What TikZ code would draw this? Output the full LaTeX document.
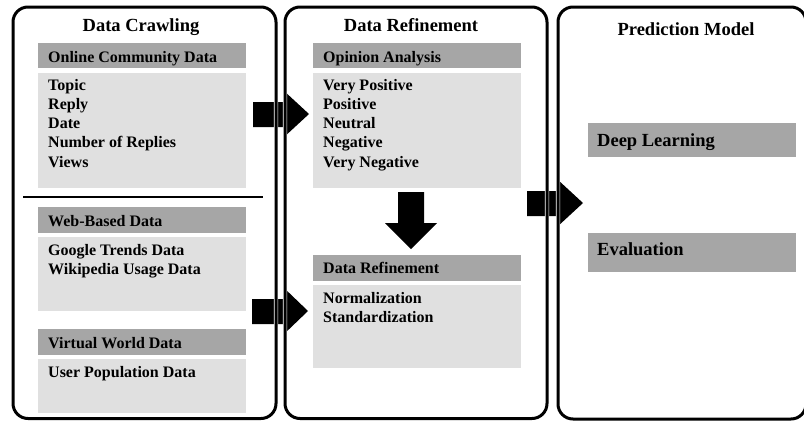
\documentclass[tikz,border=0pt]{standalone}
\usepackage{fontspec}
\setmainfont{Liberation Serif}
\definecolor{hdrgray}{RGB}{166,166,166}
\definecolor{bodygray}{RGB}{224,224,224}
\begin{document}
\begin{tikzpicture}[x=1pt,y=-1pt,
  panel/.style={draw=black, line width=3pt, rounded corners=15pt},
  halo/.style={draw=white, line width=4.2pt, rounded corners=15pt},
  hdr/.style={fill=hdrgray},
  bodybox/.style={fill=bodygray},
  txt/.style={anchor=base west, inner sep=0pt, font=\fontsize{16}{19.3}\selectfont\bfseries, align=left},
  hdrtxt/.style={anchor=base west, inner sep=0pt, font=\fontsize{16}{19}\selectfont\bfseries},
  bigtxt/.style={anchor=base west, inner sep=0pt, font=\fontsize{18.5}{22}\selectfont\bfseries},
  ttl/.style={anchor=base, inner sep=0pt, font=\fontsize{18.5}{22}\selectfont\bfseries},
  blockarrow/.style={fill=black}
]
\useasboundingbox (0,0) rectangle (804,421);
\clip (0,0) rectangle (804,421);
\fill[white] (0,0) rectangle (804,421);

% ---------- gray boxes ----------
\fill[hdr] (38,43) rectangle (246,68);
\fill[bodybox] (38,73) rectangle (246,188);
\fill[hdr] (38,207) rectangle (246,233);
\fill[bodybox] (38,237) rectangle (246,311);
\fill[hdr] (38,329) rectangle (246,355);
\fill[bodybox] (38,359) rectangle (246,413);

\fill[hdr] (313,43) rectangle (521,68);
\fill[bodybox] (313,73) rectangle (521,188);
\fill[hdr] (313,255) rectangle (521,281);
\fill[bodybox] (313,285) rectangle (521,368);

\fill[hdr] (588,123) rectangle (796,157);
\fill[hdr] (588,233) rectangle (796,272);

% ---------- block arrows ----------
\fill[blockarrow] (253,102) -- (283,102) -- (283,90) -- (309,114) -- (283,138) -- (283,127) -- (253,127) -- cycle;
\fill[blockarrow] (252,299) -- (283,299) -- (283,287) -- (308,311) -- (283,335) -- (283,324) -- (252,324) -- cycle;
\fill[blockarrow] (527,191) -- (557,191) -- (557,179) -- (583,203) -- (557,227) -- (557,216) -- (527,216) -- cycle;
\fill[blockarrow] (398,192) -- (424,192) -- (424,223) -- (437,223) -- (411,249) -- (385,223) -- (398,223) -- cycle;

% ---------- panels ----------
\draw[halo] (13,7) rectangle (276,418.5);
\draw[halo] (285,7) rectangle (547,418.5);
\draw[halo] (558,7) rectangle (806,419);
\draw[panel] (13,7) rectangle (276,418.5);
\draw[panel] (285,7) rectangle (547,418.5);
\draw[panel] (558,7) rectangle (806,419);
\draw[line width=2.5pt] (23,197) -- (263,197);

% ---------- titles ----------
\node[ttl] (t1) at (141,31.7) {Data Crawling};
\node[ttl] (t2) at (411,31.7) {Data Refinement};
\node[ttl] (t3) at (686,35) {Prediction Model};

% ---------- left panel text (anchored at the baseline of the last line) ----------
\node[hdrtxt] (h1) at (48,62.5) {Online Community Data};
\node[txt] (b1) at (48,167.2) {Topic\\Reply\\Date\\Number of Replies\\Views};
\node[hdrtxt] (h2) at (48,226) {Web-Based Data};
\node[txt] (b2) at (48,274.3) {Google Trends Data\\Wikipedia Usage Data};
\node[hdrtxt] (h3) at (48,348) {Virtual World Data};
\node[txt] (b3) at (48,377) {User Population Data};

% ---------- middle panel text ----------
\node[hdrtxt] (h4) at (323,62.5) {Opinion Analysis};
\node[txt] (b4) at (323,167.2) {Very Positive\\Positive\\Neutral\\Negative\\Very Negative};
\node[hdrtxt] (h5) at (323,273.5) {Data Refinement};
\node[txt] (b5) at (323,322.5) {Normalization\\Standardization};

% ---------- right panel text ----------
\node[bigtxt] (h6) at (597,146) {Deep Learning};
\node[bigtxt] (h7) at (597,255) {Evaluation};
\end{tikzpicture}
\end{document}
